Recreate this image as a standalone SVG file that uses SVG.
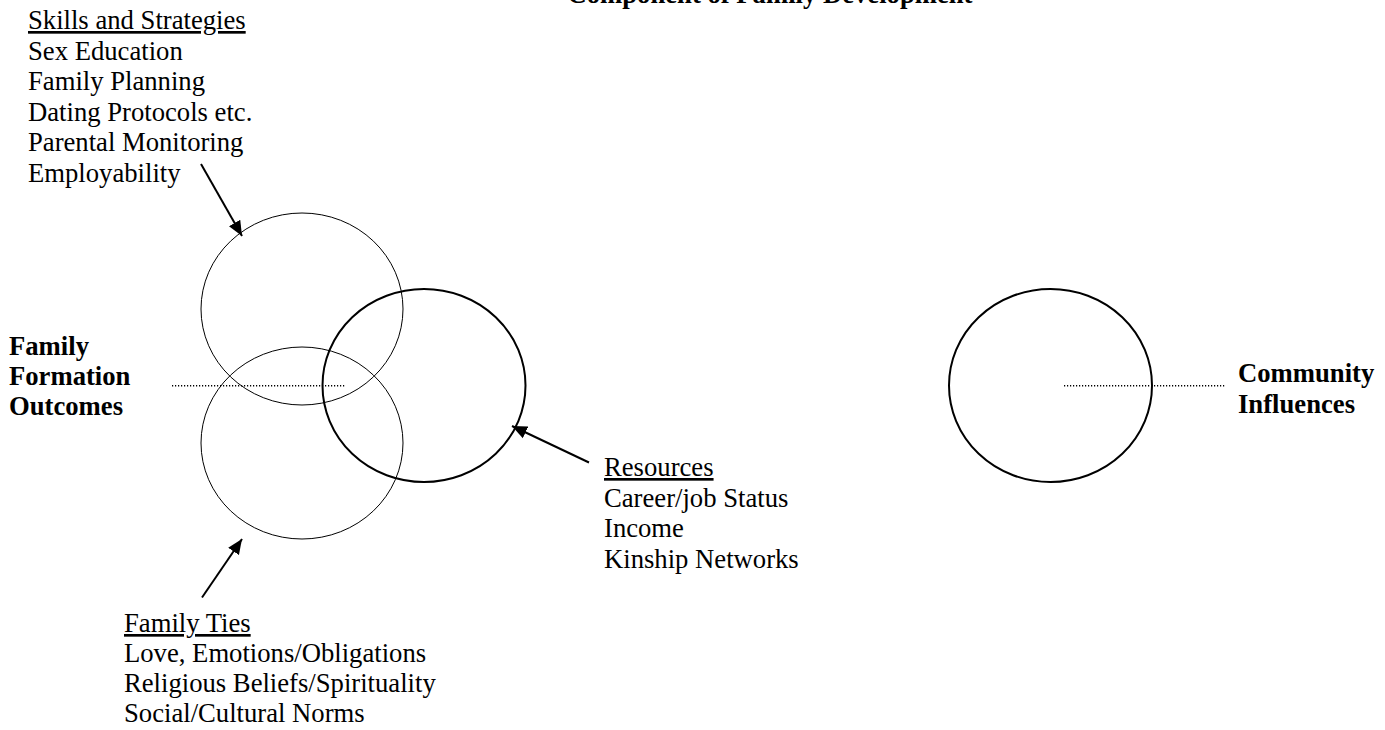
<svg xmlns="http://www.w3.org/2000/svg" width="1385" height="730" viewBox="0 0 1385 730">
  <style>
    .txt { font-family: "Liberation Serif", "Times New Roman", serif; font-size: 26.67px; fill: #000; }
    .bold { font-weight: bold; }
    .ul { text-decoration: underline; }
    .thin { fill: none; stroke: #000; stroke-width: 1; }
    .thick { fill: none; stroke: #000; stroke-width: 2; }
    .dots { stroke: #000; stroke-width: 1.4; stroke-dasharray: 1.2 1.8; fill: none; }
    .arrow { stroke: #000; stroke-width: 2; fill: none; marker-end: url(#head); }
  </style>
  <defs>
    <marker id="head" markerUnits="userSpaceOnUse" markerWidth="16" markerHeight="14" refX="15" refY="7" orient="auto">
      <path d="M0,0.5 L15,7 L0,13.5 z" fill="#000"/>
    </marker>
  </defs>

  <rect width="1385" height="730" fill="#fff"/>

  <!-- heading, partly above the top edge -->
  <text id="title" class="txt bold" x="770" y="3" text-anchor="middle">Component of Family Development</text>

  <!-- skills and strategies -->
  <g id="skills-label">
    <text class="txt ul" x="28" y="29">Skills and Strategies</text>
    <text class="txt" x="28" y="59.5">Sex Education</text>
    <text class="txt" x="28" y="90">Family Planning</text>
    <text class="txt" x="28" y="120.5">Dating Protocols etc.</text>
    <text class="txt" x="28" y="151">Parental Monitoring</text>
    <text class="txt" x="28" y="181.5">Employability</text>
  </g>

  <g id="skills-circle">
    <ellipse class="thin" cx="302" cy="309" rx="101" ry="96"/>
  </g>
  <g id="ties-circle">
    <ellipse class="thin" cx="302" cy="443" rx="101" ry="96"/>
  </g>
  <g id="resources-circle">
    <ellipse class="thick" cx="424" cy="385.5" rx="101.5" ry="96.5"/>
  </g>
  <g id="community-circle">
    <ellipse class="thick" cx="1050.5" cy="385.5" rx="101.5" ry="96.5"/>
  </g>

  <g id="outcomes-label">
    <text class="txt bold" x="9" y="355">Family</text>
    <text class="txt bold" x="9" y="385">Formation</text>
    <text class="txt bold" x="9" y="415">Outcomes</text>
  </g>

  <g id="community-label">
    <text class="txt bold" x="1238" y="382">Community</text>
    <text class="txt bold" x="1238" y="413">Influences</text>
  </g>

  <g id="resources-label">
    <text class="txt ul" x="604" y="476">Resources</text>
    <text class="txt" x="604" y="506.5">Career/job Status</text>
    <text class="txt" x="604" y="537">Income</text>
    <text class="txt" x="604" y="567.5">Kinship Networks</text>
  </g>

  <g id="ties-label">
    <text class="txt ul" x="124" y="632">Family Ties</text>
    <text class="txt" x="124" y="662">Love, Emotions/Obligations</text>
    <text class="txt" x="124" y="692">Religious Beliefs/Spirituality</text>
    <text class="txt" x="124" y="722">Social/Cultural Norms</text>
  </g>

  <!-- connectors -->
  <g id="connectors">
    <line class="dots" x1="172" y1="385.7" x2="345" y2="385.7"/>
    <line class="dots" x1="1064" y1="385.7" x2="1226" y2="385.7"/>
    <line class="arrow" x1="201" y1="164" x2="242" y2="236"/>
    <line class="arrow" x1="589" y1="462.5" x2="512" y2="426"/>
    <line class="arrow" x1="202" y1="597.5" x2="242" y2="539"/>
  </g>
</svg>
